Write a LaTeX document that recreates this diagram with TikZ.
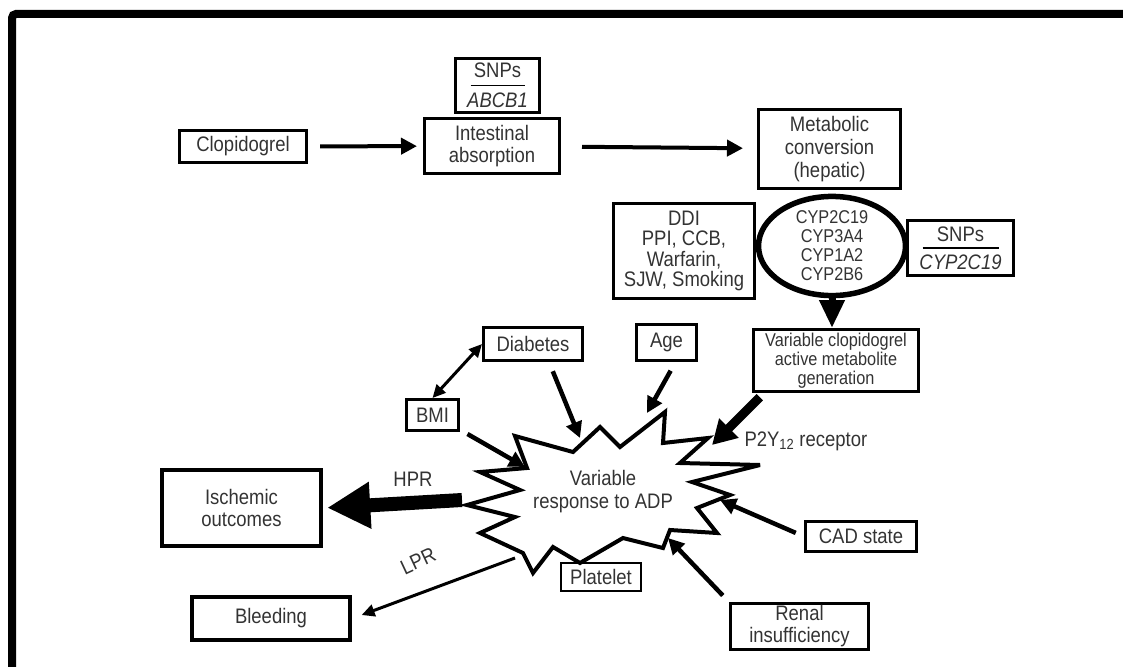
\documentclass[tikz,border=0pt]{standalone}
\usepackage{fontspec}
\setmainfont{Liberation Sans}[FakeStretch=0.88]
\usetikzlibrary{arrows.meta,shapes.geometric}
\tikzset{
  box/.style={draw, line width=3pt, inner sep=0pt, align=center, text=black!80,
    font=\fontsize{21}{22}\selectfont},
  heavybox/.style={box, line width=4.5pt},
  smalltext/.style={font=\fontsize{18.5}{19}\selectfont},
  flow/.style={line width=4pt, -{Triangle[length=16pt,width=16pt]}},
  inarrow/.style={line width=4.5pt, -{Triangle[length=16pt,width=16pt]}},
  lbl/.style={text=black!80, font=\fontsize{21}{23}\selectfont, align=center},
}
\begin{document}
\begin{tikzpicture}[x=1pt,y=-1pt]
\useasboundingbox (0,0) rectangle (1123,666);
% frame
\draw[line width=8pt, rounded corners=4pt] (12,700) -- (12,14) -- (1150,14);

% top row
\node[box, minimum width=127pt, minimum height=32pt] (clop) at (243,146.5) {Clopidogrel};
\node[box, minimum width=135pt, minimum height=55pt] (intab) at (492,146) {Intestinal\\absorption};
\node[box, line width=3.5pt, minimum width=84pt, minimum height=54pt] (snpab) at (497.5,85.5) {SNPs\\[8pt]\textit{ABCB1}};
\draw[line width=1.3pt] ([xshift=-27pt,yshift=0pt]snpab.center) -- ([xshift=27pt,yshift=0pt]snpab.center);
\node[box, minimum width=142pt, minimum height=79pt, font=\fontsize{21}{23}\selectfont] (metab) at (829.5,149) {Metabolic\\conversion\\(hepatic)};
\draw[flow, shorten <=12pt, shorten >=6pt] (clop) -- (intab);
\draw[flow, shorten <=21pt, shorten >=14pt] (intab) -- (metab);

% liver enzymes
\node[ellipse, draw, line width=5.5pt, minimum width=147pt, minimum height=95pt, inner sep=0pt,
  align=center, text=black!80, smalltext] (cyp) at (832,246) {CYP2C19\\CYP3A4\\CYP1A2\\CYP2B6};
\node[box, minimum width=141pt, minimum height=95pt, font=\fontsize{21}{20.5}\selectfont] (ddi) at (684,251) {DDI\\PPI, CCB,\\Warfarin,\\SJW, Smoking};
\node[box, line width=3.5pt, minimum width=106pt, minimum height=55pt] (snpcyp) at (960.5,248) {SNPs\\[6pt]\textit{CYP2C19}};
\draw[line width=1.3pt] ([xshift=-38pt,yshift=0pt]snpcyp.center) -- ([xshift=38pt,yshift=0pt]snpcyp.center);
\node[box, smalltext, minimum width=165pt, minimum height=62pt] (varcl) at (836,360.5) {Variable clopidogrel\\active metabolite\\generation};
\draw[line width=7pt, -{Triangle[length=28pt,width=24pt]}] (cyp.south) -- (cyp.south |- varcl.north);

% factors
\node[box, minimum width=99pt, minimum height=33pt] (diab) at (533,344) {Diabetes};
\node[box, minimum width=60pt, minimum height=36pt] (age) at (666.5,342.5) {Age};
\node[box, minimum width=52pt, minimum height=31pt] (bmi) at (432.5,415) {BMI};
\node[box, minimum width=111pt, minimum height=30pt] (cad) at (861,536.5) {CAD state};
\node[box, minimum width=138pt, minimum height=46pt] (renal) at (799.5,626.5) {Renal\\insufficiency};
\node[box, line width=2.5pt, minimum width=80pt, minimum height=28pt] (plat) at (601,577) {Platelet};
\node[heavybox, minimum width=159pt, minimum height=76pt] (isch) at (241.5,508) {Ischemic\\outcomes};
\node[heavybox, minimum width=158pt, minimum height=43pt] (bleed) at (271,618.5) {Bleeding};

% star
\draw[line width=4pt, fill=white, line join=miter, miter limit=4]
  (480,472) -- (527,468) -- (515,436) -- (573,452) -- (600,427) -- (620,447)
  -- (665,412) -- (663,443) -- (708,438) -- (680,463) -- (760,465) -- (692,482)
  -- (730,495) -- (697,508) -- (717,533) -- (670,530) -- (663,548) -- (623,538)
  -- (580,563) -- (553,547) -- (533,573) -- (523,553) -- (480,533) -- (515,517)
  -- (467,505) -- (520,490) -- cycle;
\node[lbl] (resp) at (603,492) {Variable\\response to ADP};

\coordinate (tdiab) at (580,438);
\coordinate (tage) at (647,413);
\coordinate (tbmi) at (525,467);
\coordinate (tp2y) at (712,445);
\coordinate (tcad) at (720,500);
\coordinate (tren) at (668,538);
\coordinate (shpr) at (462,500);
\coordinate (slpr) at (515,558);

\draw[line width=3pt, {Triangle[length=13pt,width=12pt]}-{Triangle[length=13pt,width=12pt]}] (bmi.north) -- (diab.west);
\draw[inarrow, shorten <=10pt] ([xshift=16pt]diab.south) -- (tdiab);
\draw[inarrow, shorten <=10pt] ([xshift=9pt]age.south) -- (tage);
\draw[inarrow, shorten <=4pt] ([xshift=4pt]bmi.south east) -- (tbmi);
\draw[line width=9pt, -{Triangle[length=24pt,width=26pt]}, shorten <=6pt] ([xshift=12pt]varcl.south west) -- (tp2y);
\draw[inarrow, shorten <=9pt] (cad.west) -- (tcad);
\draw[inarrow, shorten <=9pt] (renal.north west) -- (tren);
\node[lbl, anchor=west] (p2y) at (741,441) {P2Y\textsubscript{12} receptor};

% outcomes
\draw[line width=14pt, -{Triangle[length=43pt,width=44pt]}, shorten >=4pt] (shpr) -- (isch.east);
\node[lbl] (hpr) at (413,479) {HPR};
\draw[line width=3pt, -{Triangle[length=13pt,width=12pt]}, shorten >=10pt] (slpr) -- (bleed.east);
\node[lbl, rotate=25] (lpr) at (418,561) {LPR};
\end{tikzpicture}
\end{document}
